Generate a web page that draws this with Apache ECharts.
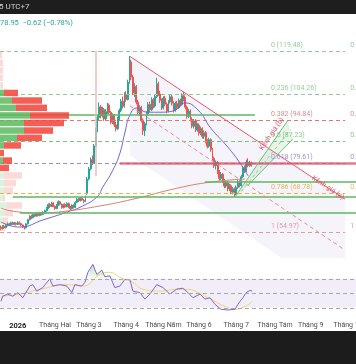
<!DOCTYPE html>
<html>
<head>
<meta charset="utf-8">
<script src="https://cdn.jsdelivr.net/npm/echarts@6/dist/echarts.min.js"></script>
<style>
  html, body { margin: 0; padding: 0; background: #fff; }
  #chart { width: 356px; height: 364px; }
</style>
</head>
<body>
<div id="chart"></div>
<script>
// trading days on the axis (weekdays), from mid Dec 2025 to early Oct 2026
const firstDay = Date.UTC(2025, 11, 18);
const lastDay = Date.UTC(2026, 9, 9);
const days = [];
for (let t = firstDay; t <= lastDay; t += 86400000) {
  const d = new Date(t);
  if (d.getUTCDay() === 0 || d.getUTCDay() === 6) continue;
  days.push(d.toISOString().slice(0, 10));
}

const monthStarts = ['2026-01-01', '2026-02-02', '2026-03-02', '2026-04-01', '2026-05-01',
  '2026-06-01', '2026-07-01', '2026-08-03', '2026-09-01', '2026-10-01'];
const monthNames = ['2026', 'Tháng Hai', 'Tháng 3', 'Tháng 4', 'Tháng Năm',
  'Tháng 6', 'Tháng 7', 'Tháng Tám', 'Tháng 9', 'Tháng 10'];

// [open, close, low, high]
const candles = [
  [56.8, 56.2, 55.6, 57.3], [56.2, 57.0, 55.9, 57.4], [57.0, 56.5, 56.1, 57.6], [56.5, 57.4, 56.3, 57.8],
  [57.4, 57.9, 57.0, 58.4], [57.9, 57.6, 57.2, 58.3], [57.6, 58.3, 57.4, 58.7], [58.3, 57.8, 57.5, 58.8],
  [57.8, 58.2, 57.4, 58.6], [58.2, 57.7, 57.3, 58.5], [57.7, 58.4, 57.5, 58.9], [58.4, 58.0, 57.6, 58.8],
  [58.0, 57.5, 57.1, 58.3], [57.5, 56.8, 56.4, 57.7], [56.8, 56.5, 55.9, 57.1], [56.5, 57.9, 56.3, 58.2],
  [57.9, 59.4, 57.7, 59.7], [59.4, 60.6, 59.1, 61.0], [60.6, 60.1, 59.6, 61.2], [60.1, 61.2, 59.9, 61.6],
  [61.2, 60.7, 60.3, 61.5], [60.7, 61.5, 60.5, 62.0], [61.5, 60.9, 60.5, 61.9], [60.9, 61.8, 60.6, 62.2],
  [61.8, 61.3, 60.9, 62.1], [61.3, 62.0, 61.0, 62.4], [62.0, 62.6, 61.7, 63.0], [62.6, 63.5, 62.3, 63.9],
  [63.5, 64.8, 63.2, 65.2], [64.8, 64.1, 63.6, 65.4], [64.1, 65.3, 63.9, 65.8], [65.3, 64.2, 63.8, 65.6],
  [64.2, 63.4, 62.9, 64.5], [63.4, 64.6, 63.1, 65.0], [64.6, 65.8, 64.3, 66.3], [65.8, 64.9, 64.5, 66.1],
  [64.9, 63.7, 63.3, 65.2], [63.7, 64.8, 63.4, 65.1], [64.8, 64.0, 63.6, 65.3], [64.0, 65.2, 63.8, 65.6],
  [65.2, 63.9, 63.5, 65.5], [63.9, 63.3, 62.8, 64.3], [63.3, 64.6, 63.0, 64.9], [64.6, 63.8, 63.4, 64.9],
  [63.8, 65.6, 63.6, 66.0], [65.6, 66.7, 65.3, 67.1], [66.7, 66.2, 65.7, 67.2], [66.2, 67.0, 65.9, 67.4],
  [67.0, 66.4, 66.0, 67.3], [66.4, 65.9, 65.2, 66.8], [65.9, 67.6, 65.6, 68.0], [68.6, 73.9, 68.3, 74.6],
  [73.9, 77.5, 73.4, 78.2], [77.5, 80.8, 77.0, 81.6], [80.8, 79.6, 78.9, 82.3], [79.6, 85.7, 79.3, 86.4],
  [85.7, 91.2, 85.3, 92.0], [91.2, 95.8, 90.6, 96.9], [95.8, 99.6, 94.8, 101.2], [99.6, 96.4, 95.5, 100.3],
  [96.4, 98.7, 95.8, 99.6], [98.7, 95.3, 94.6, 99.2], [95.3, 97.9, 94.7, 98.8], [97.9, 100.2, 97.1, 101.0],
  [100.2, 97.6, 96.9, 100.8], [97.6, 94.1, 93.4, 98.2], [94.1, 96.5, 93.5, 97.3], [96.5, 93.2, 92.4, 97.0],
  [93.2, 91.8, 90.9, 94.3], [91.8, 95.4, 91.3, 96.1], [95.4, 98.3, 94.8, 99.0], [98.3, 101.6, 97.7, 102.4],
  [101.6, 99.8, 99.0, 103.3], [99.8, 103.9, 99.3, 104.8], [103.9, 102.2, 101.4, 105.2], [102.2, 108.4, 101.9, 109.3],
  [108.4, 115.6, 107.9, 117.7], [115.6, 110.2, 109.1, 116.4], [110.2, 104.6, 103.8, 111.0], [104.6, 106.8, 103.2, 108.0],
  [106.8, 101.3, 100.5, 107.4], [101.3, 97.6, 96.8, 102.1], [97.6, 99.4, 96.3, 100.2], [99.4, 94.8, 94.0, 100.0],
  [94.8, 91.1, 89.6, 95.5], [91.1, 93.6, 89.2, 94.3], [93.6, 97.2, 93.0, 98.0], [97.2, 100.5, 96.6, 101.3],
  [100.5, 98.6, 97.8, 101.5], [98.6, 102.1, 98.1, 103.0], [102.1, 99.9, 99.1, 102.8], [99.9, 103.3, 99.4, 104.1],
  [103.3, 107.8, 102.8, 110.0], [107.8, 104.2, 103.5, 108.5], [104.2, 101.9, 101.0, 105.3], [101.9, 99.2, 98.5, 102.6],
  [99.2, 102.7, 98.7, 103.4], [102.7, 100.6, 99.8, 103.5], [100.6, 98.1, 97.4, 101.2], [98.1, 101.4, 97.7, 102.0],
  [101.4, 103.2, 100.8, 104.1], [103.2, 100.9, 100.1, 103.9], [100.9, 98.4, 97.6, 101.6], [98.4, 100.8, 97.9, 101.5],
  [100.8, 99.3, 98.7, 101.7], [99.3, 101.9, 98.9, 102.6], [101.9, 100.4, 99.7, 102.5], [100.4, 103.6, 100.0, 104.4],
  [103.6, 102.3, 101.6, 105.0], [102.3, 99.5, 98.7, 103.1], [99.5, 96.2, 95.4, 100.1], [96.2, 98.1, 95.6, 98.9],
  [98.1, 95.1, 94.4, 98.7], [95.1, 92.7, 92.0, 95.9], [92.7, 94.6, 91.9, 95.3], [94.6, 91.4, 90.6, 95.2],
  [91.4, 93.1, 90.8, 93.8], [93.1, 90.2, 89.4, 93.7], [90.2, 91.8, 89.5, 92.6], [91.8, 89.1, 88.3, 92.3],
  [89.1, 90.4, 88.2, 91.2], [90.4, 87.3, 86.6, 91.0], [87.3, 85.6, 84.8, 88.1], [85.6, 87.9, 85.1, 88.6],
  [87.9, 84.4, 83.6, 88.4], [84.4, 81.2, 80.5, 85.0], [81.2, 78.6, 77.8, 81.9], [78.6, 79.8, 77.3, 80.5],
  [79.8, 76.4, 75.6, 80.3], [76.4, 74.1, 73.3, 77.1], [74.1, 75.6, 73.5, 76.4], [75.6, 73.2, 72.5, 76.1],
  [73.2, 71.4, 70.6, 73.9], [71.4, 72.6, 70.8, 73.3], [72.6, 70.3, 69.5, 73.1], [70.3, 71.5, 69.6, 72.2],
  [71.5, 69.2, 68.5, 72.0], [69.2, 70.4, 68.4, 71.1], [70.4, 68.6, 67.5, 70.9], [68.6, 70.9, 68.2, 71.6],
  [70.9, 72.8, 70.4, 73.5], [72.8, 71.6, 70.9, 73.4], [71.6, 74.7, 71.2, 75.4], [74.7, 77.9, 74.3, 78.6],
  [77.9, 76.8, 76.1, 78.7], [76.8, 79.9, 76.4, 80.8], [79.9, 78.7, 78.1, 81.3], [78.7, 79.57, 78.2, 80.4],
  [79.57, 78.95, 78.3, 80.1]
];

// moving averages, [day index, price]
const maFast = [[0, 58.6], [6, 57.2], [11.2, 56.8], [24.8, 59.3], [39, 62.1], [48.4, 64.3], [56.7, 67.5],
  [60.2, 71.0], [66.2, 77.1], [70.3, 83.1], [73.2, 90.3], [76.2, 96.7], [80.3, 99.2], [86.2, 97.7],
  [93.9, 97.7], [101.6, 98.1], [108.7, 101.0], [116.4, 98.5], [124, 92], [134, 85.3], [141.2, 79.6], [146, 75]];
const maSlow = [[0, 63.5], [11.2, 62.1], [23, 61.8], [39, 62.5], [58.5, 64.3], [78, 66.7],
  [104, 70.6], [124, 72.8], [144.2, 73.9]];

// fibonacci retracement
const fibRatios = ['0', '0.236', '0.382', '0.5', '0.618', '0.786', '1'];
const fibPrices = [119.48, 104.26, 94.84, 87.23, 79.61, 68.78, 54.97];
const fibStart = -0.5, fibEnd = 203.3, fibLabelAt = 159.5, fibLabelAt2 = 206.3;

// horizontal levels: price, from day, to day
const levelPrices = [96.67, 79.45, 72.8, 67.45, 61.9];
const levelFrom = [-0.5, 70.3, 120.5, 7, 11.2];
const levelTo = [150, 211.5, 211.5, 211.5, 211.5];

// channels, anchors in [day index, price]
const channelA = [[76.2, 117.6], [203.3, 66.7], [203.3, 30.4], [76.2, 82.4]];
const channelAMid = [[76.2, 100.0], [203.3, 48.55]];
const channelB = [[138.25, 67.45], [169.6, 94.9], [172.5, 88.2], [145.9, 71.6]];
const channelBMid = [[142.1, 69.5], [171, 91.5]];
const startLine = [[56.1, 119.48], [56.1, 75]];

// volume profile rows (top price of each row), up / down volume
const profileTop = [119.3, 116.6, 113.9, 111.3, 108.6, 105.9, 103.2, 100.6, 97.9, 95.2, 92.5, 89.9,
  87.2, 84.5, 81.8, 79.2, 76.5, 73.8, 71.1, 68.5, 65.8, 63.1, 60.4, 57.8];
const profileUp = [0, 0, 0, 0, 1, 4, 12, 16, 30, 24, 24, 17, 4, 0, 3, 0, 4, 4, 4, 3, 7, 5, 3, 2];
const profileDown = [2, 3, 3, 3, 2, 14, 30, 31, 39, 40, 29, 25, 17, 4, 9, 9, 18, 12, 9, 2, 15, 8, 5, 3];
const profileBin = 2.67;
const valueAreaHigh = 105.9, valueAreaLow = 76.5;

// RSI and its average, [day index, value]
const rsi = [[0, 39], [1.1, 46], [4.1, 49], [7, 46], [10, 51], [13, 44], [17.1, 60], [18.9, 62], [21.2, 53],
  [24.8, 58], [28.9, 70], [30.7, 60], [34.8, 62], [39, 60], [41.9, 51], [43.7, 62], [47.8, 60], [49.6, 65],
  [51.4, 79], [54.3, 90], [56.7, 76], [59.6, 82], [61.4, 73], [64.4, 74], [67.3, 58], [70.3, 60], [73.2, 69],
  [76.2, 69], [78, 53], [82.1, 51], [85.1, 42], [88, 49], [92.1, 62], [95.7, 58], [99.8, 49], [104, 56],
  [107.5, 57], [110.5, 51], [113.4, 44], [117.6, 49], [120.5, 42], [123.5, 44], [126.4, 35], [130, 28],
  [134.1, 27], [138.2, 28], [141.2, 39], [143, 44], [144.8, 51], [147.1, 54], [148.5, 53]];
const rsiMa = [[0, 46], [11.2, 49], [23, 55.5], [39, 62], [48.4, 60], [58.5, 76], [64.4, 79], [70.3, 72],
  [78, 65], [84, 55.5], [93.9, 53], [104, 55.5], [110.5, 55.5], [116.4, 51], [124, 42], [132.3, 32],
  [138.2, 28], [144.2, 32], [148.5, 39]];

const fibColors = ['#8fcb92', '#8fcb92', '#e57373', '#7cc47f', '#9c88d4', '#f5b041', '#ea95a3'];
const fibTextColors = ['#7cbf80', '#7cbf80', '#e06a6a', '#6cbb70', '#8a74c9', '#eea33a', '#e2808f'];
const pink = '#e2566c';

const chart = echarts.init(document.getElementById('chart'), null, { renderer: 'canvas' });

function seg(a, b, style, label) {
  const first = { coord: a, lineStyle: style };
  if (label) first.label = label;
  return [first, { coord: b }];
}

const drawLines = [];
fibPrices.forEach((p, i) => {
  drawLines.push(seg([fibStart, p], [fibEnd, p], { color: fibColors[i], width: 1, type: [4, 3] }));
});
levelPrices.forEach((p, i) => {
  const isPink = i === 1;
  drawLines.push(seg([levelFrom[i], p], [levelTo[i], p], {
    color: isPink ? 'rgba(216,80,100,0.75)' : '#5cb860',
    width: isPink ? 2.5 : 1.5, type: 'solid'
  }));
});
drawLines.push(seg(startLine[0], startLine[1], { color: '#f2b8b8', width: 1.5, type: 'solid' }));
drawLines.push(seg(channelA[0], channelA[1], { color: pink, width: 1, type: 'solid' },
  { show: true, formatter: 'Kênh giá (a)', position: 'insideEnd', color: pink, fontSize: 7, distance: 2 }));
drawLines.push(seg(channelA[3], channelA[2], { color: pink, width: 1, type: 'solid' }));
drawLines.push(seg(channelAMid[0], channelAMid[1], { color: '#e88a9a', width: 1, type: [4, 3] }));
drawLines.push(seg(channelB[0], channelB[1], { color: '#6cbf70', width: 1, type: 'solid' },
  { show: true, formatter: 'Kênh giá (b)', position: 'insideEndTop', color: pink, fontSize: 7, distance: 2 }));
drawLines.push(seg(channelB[3], channelB[2], { color: '#6cbf70', width: 1, type: 'solid' }));
drawLines.push(seg(channelBMid[0], channelBMid[1], { color: '#8fcb92', width: 1, type: [3, 3] }));

const fibLabelData = [];
fibPrices.forEach((p, i) => {
  const text = fibRatios[i] + ' (' + p.toFixed(2) + ')';
  [fibLabelAt, fibLabelAt2].forEach(x => {
    fibLabelData.push({ value: [x, p], name: text, label: { color: fibTextColors[i] } });
  });
});

function polygon(points, fill) {
  return {
    type: 'custom', xAxisIndex: 2, yAxisIndex: 0, data: [0], clip: true, silent: true, z: 1,
    renderItem: (params, api) => ({
      type: 'polygon',
      shape: { points: points.map(p => api.coord(p)) },
      style: { fill: fill }
    })
  };
}

const option = {
  animation: false,
  textStyle: { fontFamily: 'Roboto, sans-serif' },
  grid: [
    { left: 0, top: 30, width: 359, height: 228, containLabel: false, outerBoundsMode: 'none' },
    { left: 0, top: 262, width: 359, height: 56, containLabel: false, outerBoundsMode: 'none' }
  ],
  xAxis: [
    { type: 'category', gridIndex: 0, data: days, show: false },
    {
      type: 'category', gridIndex: 1, data: days,
      axisLine: { show: false }, axisTick: { show: false }, splitLine: { show: false },
      axisLabel: {
        interval: (i, v) => monthStarts.indexOf(v) >= 0,
        formatter: v => {
          const k = monthStarts.indexOf(v);
          return k === 0 ? '{y|' + monthNames[k] + '}' : monthNames[k];
        },
        color: '#4d4d4d', fontSize: 7, margin: 4,
        rich: { y: { fontWeight: 'bold', color: '#222', fontSize: 7.5 } }
      }
    },
    { type: 'value', gridIndex: 0, min: -0.5, max: 211.5, show: false },
    { type: 'value', gridIndex: 0, min: 0, max: 359, show: false },
    { type: 'value', gridIndex: 1, min: -0.5, max: 211.5, show: false }
  ],
  yAxis: [
    { type: 'value', gridIndex: 0, min: 45.75, max: 127, show: false },
    { type: 'value', gridIndex: 1, min: 16, max: 93.2, show: false }
  ],
  graphic: [
    { type: 'rect', shape: { x: 0, y: 0, width: 356, height: 14 }, style: { fill: '#1e1e1e' }, z: 100 },
    { type: 'text', x: -1, y: 3, style: { text: '5 UTC+7', fill: '#d4d4d4', font: '8px Roboto' }, z: 101 },
    { type: 'text', x: 0, y: 19, style: { text: '78.95  −0.62 (−0.78%)', fill: '#26a69a', font: '7.5px Roboto' }, z: 101 },
    { type: 'rect', shape: { x: 0, y: 331, width: 356, height: 33 }, style: { fill: '#1c1c1c' }, z: 100 }
  ],
  series: [
    polygon(channelA, 'rgba(125,105,200,0.07)'),
    polygon(channelB, 'rgba(76,175,80,0.12)'),
    {
      type: 'candlestick', xAxisIndex: 0, yAxisIndex: 0, data: candles, barWidth: 1.4, z: 3,
      itemStyle: {
        color: '#26a69a', color0: '#ef5350',
        borderColor: '#26a69a', borderColor0: '#ef5350', borderWidth: 1
      }
    },
    {
      type: 'line', xAxisIndex: 2, yAxisIndex: 0, data: maFast, smooth: true, showSymbol: false,
      lineStyle: { color: '#7262d8', width: 1 }, z: 4
    },
    {
      type: 'line', xAxisIndex: 2, yAxisIndex: 0, data: maSlow, smooth: true, showSymbol: false,
      lineStyle: { color: '#dc7d74', width: 1 }, z: 4
    },
    {
      type: 'line', xAxisIndex: 2, yAxisIndex: 0, data: [], z: 5,
      markLine: { silent: true, symbol: ['none', 'none'], label: { show: false }, data: drawLines }
    },
    {
      type: 'custom', xAxisIndex: 3, yAxisIndex: 0, silent: true, z: 6,
      data: profileTop.map((t, i) => [profileUp[i], profileDown[i], t]),
      renderItem: (params, api) => {
        const up = api.value(0), down = api.value(1), top = api.value(2);
        const low = top - profileBin;
        const strong = top <= valueAreaHigh + 0.01 && low >= valueAreaLow - 0.01;
        const a = api.coord([0, top]);
        const b = api.coord([up, low]);
        const c = api.coord([up + down, low]);
        const h = b[1] - a[1] - 1;
        return {
          type: 'group',
          children: [
            { type: 'rect', shape: { x: a[0], y: a[1] + 0.5, width: b[0] - a[0], height: h },
              style: { fill: strong ? 'rgba(92,184,96,0.85)' : 'rgba(92,184,96,0.2)' } },
            { type: 'rect', shape: { x: b[0], y: a[1] + 0.5, width: c[0] - b[0], height: h },
              style: { fill: strong ? 'rgba(242,72,62,0.88)' : 'rgba(242,72,62,0.2)' } }
          ]
        };
      }
    },
    {
      type: 'scatter', xAxisIndex: 2, yAxisIndex: 0, symbolSize: 0, silent: true, z: 7,
      data: fibLabelData,
      label: { show: true, position: 'right', distance: 0, offset: [0, -6], fontSize: 7, formatter: p => p.name }
    },
    {
      type: 'line', xAxisIndex: 4, yAxisIndex: 1, data: rsi.map(p => [p[0], Math.max(p[1], 70)]),
      showSymbol: false, lineStyle: { width: 0 }, silent: true, z: 2,
      areaStyle: {
        origin: 70,
        color: new echarts.graphic.LinearGradient(0, 0, 0, 1, [
          { offset: 0, color: 'rgba(76,175,80,0.55)' },
          { offset: 1, color: 'rgba(76,175,80,0.05)' }
        ])
      }
    },
    {
      type: 'line', xAxisIndex: 4, yAxisIndex: 1, data: rsiMa, smooth: true, showSymbol: false,
      lineStyle: { color: '#f6d26e', width: 1 }, z: 3
    },
    {
      type: 'line', xAxisIndex: 4, yAxisIndex: 1, data: rsi, showSymbol: false,
      lineStyle: { color: '#7e68cc', width: 1 }, z: 4,
      markArea: { silent: true, itemStyle: { color: 'rgba(126,87,194,0.1)' }, data: [[{ yAxis: 70 }, { yAxis: 30 }]] },
      markLine: {
        silent: true, symbol: ['none', 'none'], label: { show: false },
        lineStyle: { color: '#a8a8a8', type: [4, 3], width: 1 },
        data: [{ yAxis: 70 }, { yAxis: 50 }, { yAxis: 30 }]
      }
    }
  ]
};

chart.setOption(option);
</script>
</body>
</html>
